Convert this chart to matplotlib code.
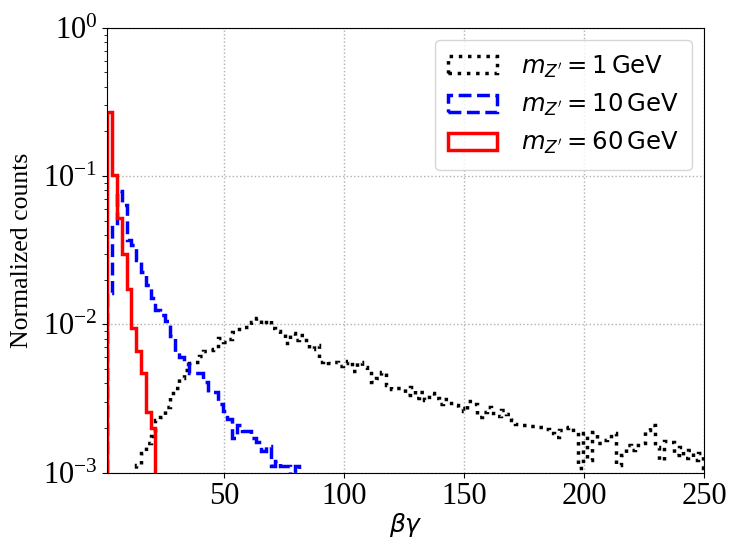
import numpy as np
import matplotlib
matplotlib.use("Agg")
import matplotlib.pyplot as plt

plt.rcParams['font.family'] = 'serif'
plt.rcParams['font.serif'] = ['Liberation Serif', 'DejaVu Serif']
plt.rcParams['mathtext.fontset'] = 'dejavusans'

# bin edges in beta*gamma (width 2)
bin_edges = np.arange(1.25, 251.3, 2.0)

red_60 = [0.271, 0.1015, 0.0523, 0.0298, 0.0173, 0.0095, 0.0066, 0.0047, 0.00256, 0.00201]

blue_10 = [0.0163, 0.0467, 0.0792, 0.0637, 0.0370, 0.0342, 0.0271, 0.0225, 0.0184, 0.0150,
           0.0125, 0.0116, 0.0105, 0.0083, 0.0065, 0.0060, 0.0054, 0.0047, 0.0047, 0.0047,
           0.0041, 0.0035, 0.0035, 0.0029, 0.0026, 0.0023, 0.0017, 0.0021, 0.0019, 0.0019,
           0.0017, 0.0016, 0.0014, 0.0015, 0.0011, 0.0012, 0.0011, 0.0011, 0.0, 0.0011]

black_1 = [0, 0, 0, 0, 0, 0.0009, 0.00113, 0.00136, 0.00158, 0.00177,
           0.00226, 0.00237, 0.00277, 0.00344, 0.00372, 0.00434, 0.00492, 0.00548, 0.00557, 0.00611,
           0.00661, 0.00671, 0.00681, 0.00809, 0.00760, 0.00796, 0.00887, 0.00930, 0.00959, 0.00959,
           0.01036, 0.01103, 0.01005, 0.01069, 0.00944, 0.00901, 0.00861, 0.00748, 0.00874, 0.00784,
           0.00848, 0.00784, 0.00681, 0.00725, 0.00557, 0.00566, 0.00548, 0.00557, 0.00523, 0.00548,
           0.00566, 0.00484, 0.00557, 0.00515, 0.00484, 0.00408, 0.00434, 0.00477, 0.00390, 0.00366,
           0.00372, 0.00372, 0.00334, 0.00378, 0.00319, 0.00349, 0.00309, 0.00344, 0.00319, 0.00290,
           0.00314, 0.00295, 0.00286, 0.00273, 0.00260, 0.00304, 0.00290, 0.00237, 0.00256, 0.00277,
           0.00252, 0.00241, 0.00264, 0.00248, 0.00226, 0.00213, 0.00209, 0.00209, 0.00206, 0.00203,
           0.00203, 0.00197, 0.00185, 0.00174, 0.00194, 0.00200, 0.00203, 0.00188, 0.00107, 0.00185,
           0.00122, 0.00188, 0.00158, 0.00166, 0.00171, 0.00185, 0.00113, 0.00131, 0.00153, 0.00142,
           0.00153, 0.00158, 0.00194, 0.00209, 0.00149, 0.00122, 0.00163, 0.00161, 0.00131, 0.00149,
           0.00125, 0.00142, 0.00122, 0.00136, 0.00107]

labels = [r'$m_{Z^\prime} = 1\,\mathrm{GeV}$',
          r'$m_{Z^\prime} = 10\,\mathrm{GeV}$',
          r'$m_{Z^\prime} = 60\,\mathrm{GeV}$']

def pad(vals, n):
    v = np.zeros(n)
    v[:len(vals)] = vals
    return v

nb = len(bin_edges) - 1
centers = 0.5 * (bin_edges[:-1] + bin_edges[1:])

fig = plt.figure(figsize=(7.3, 5.45), dpi=100)
ax = fig.add_axes([0.147, 0.133, 0.818, 0.816])

ax.hist(centers, bins=bin_edges, weights=pad(black_1, nb), histtype='step',
        color='black', linestyle=':', linewidth=2.5, label=labels[0])
ax.hist(centers, bins=bin_edges, weights=pad(blue_10, nb), histtype='step',
        color='blue', linestyle='--', linewidth=2.5, label=labels[1])
ax.hist(centers, bins=bin_edges, weights=pad(red_60, nb), histtype='step',
        color='red', linestyle='-', linewidth=2.5, label=labels[2])

ax.set_yscale('log')
ax.set_ylim(1e-3, 1)
ax.set_xlim(1.25, 250)
ax.set_xticks([50, 100, 150, 200, 250])
ax.grid(True, which='major', linestyle=':', color='#b0b0b0', linewidth=1.0)
ax.tick_params(axis='both', which='major', labelsize=22)
ax.set_xlabel(r'$\beta\gamma$', fontsize=18, labelpad=0)
ax.set_ylabel('Normalized counts', fontsize=18.5)
ax.yaxis.set_label_coords(-0.125, 0.5)
ax.legend(loc='upper right', fontsize=17.5, handletextpad=1.0, borderpad=0.55)

fig.savefig('out.png', dpi=100)
